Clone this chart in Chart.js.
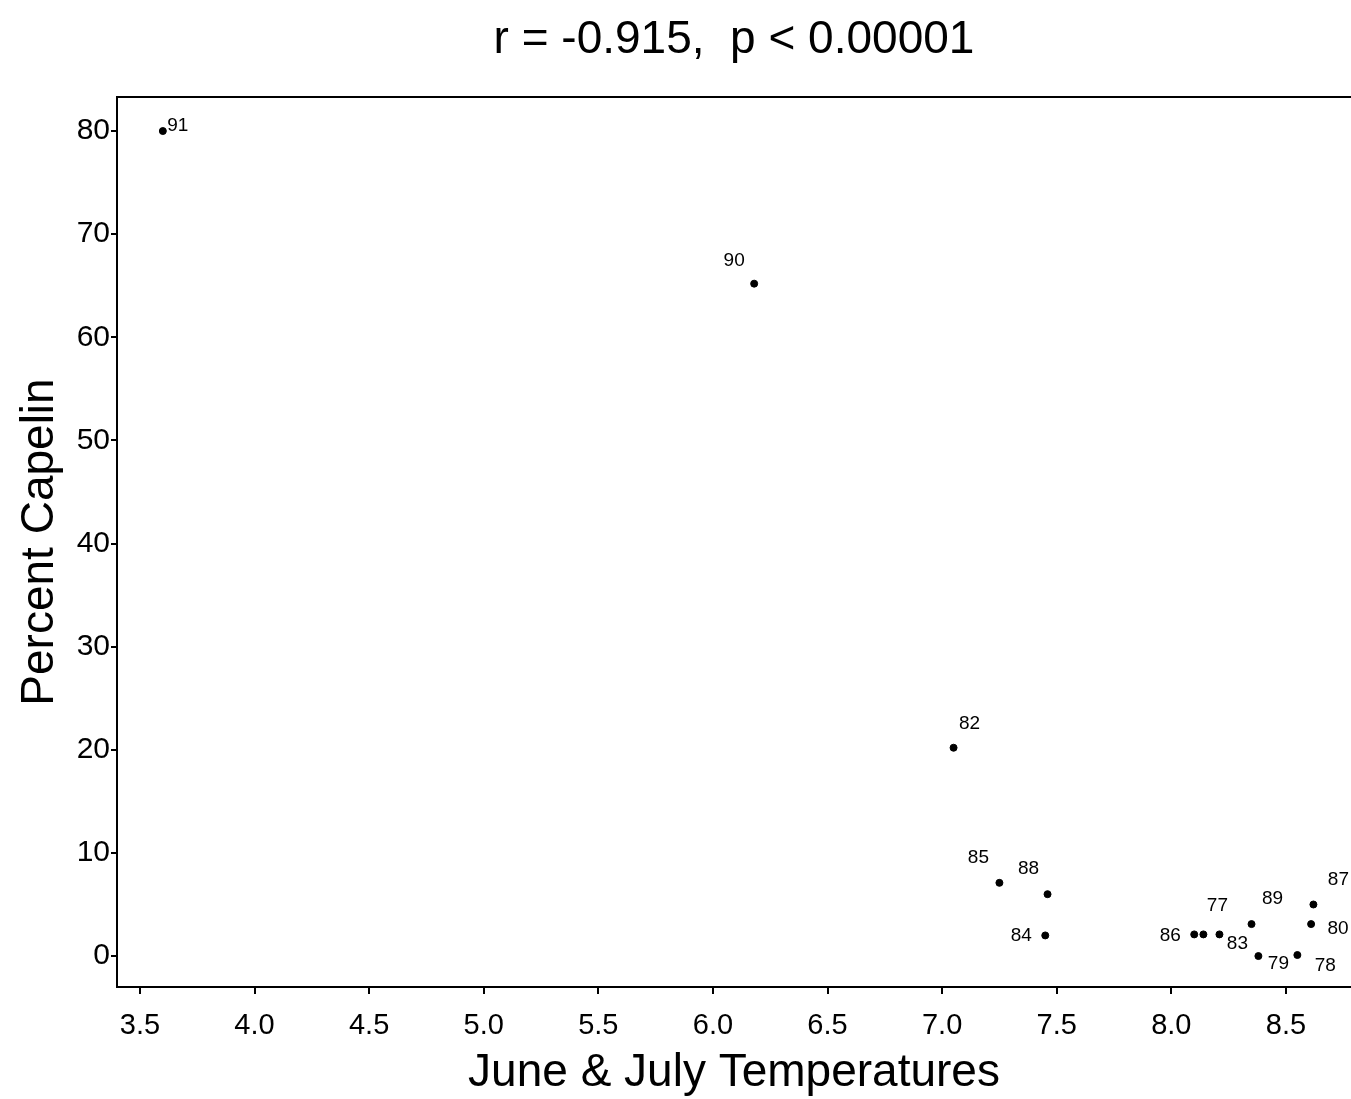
<!DOCTYPE html>
<html>
<head>
<meta charset="UTF-8">
<title>Percent Capelin vs June & July Temperatures</title>
<script src="https://cdn.jsdelivr.net/npm/chart.js@4.4.0/dist/chart.umd.min.js"></script>
<style>
  body { margin: 0; background: #fff; }
  canvas { display: block; }
</style>
</head>
<body>
<canvas id="chart" width="1351" height="1099"></canvas>
<script>
// years (labels next to points)
const years = ['91', '90', '82', '85', '88', '84', '86', '77', '83', '89', '79', '78', '87', '80'];
// June & July temperatures
const temps = [3.60, 6.18, 7.05, 7.25, 7.46, 7.45, 8.10, 8.14, 8.21, 8.35, 8.38, 8.55, 8.62, 8.61];
// percent capelin
const capelin = [80, 65.2, 20.2, 7.1, 6.0, 2.0, 2.1, 2.1, 2.1, 3.1, 0.0, 0.1, 5.0, 3.1];

const xTicks = [3.5, 4.0, 4.5, 5.0, 5.5, 6.0, 6.5, 7.0, 7.5, 8.0, 8.5];
const yTicks = [0, 10, 20, 30, 40, 50, 60, 70, 80];

const titleText = 'r = -0.915,  p < 0.00001';
const xTitle = 'June & July Temperatures';
const yTitle = 'Percent Capelin';

const FONT = "'Liberation Sans', Arial, sans-serif";

// where each year label sits relative to its dot (px)
const labelPos = {
  '91': [15, -5], '90': [-20, -23], '82': [16, -24], '85': [-21, -25],
  '88': [-19, -25], '84': [-24, 0], '86': [-24, 1], '77': [14, -29],
  '83': [18, 9], '89': [21, -25], '79': [20, 8], '78': [28, 11],
  '87': [25, -25], '80': [27, 5]
};

const pointLabels = {
  id: 'pointLabels',
  afterDatasetsDraw(chart) {
    const ctx = chart.ctx;
    const meta = chart.getDatasetMeta(0);
    ctx.save();
    ctx.font = '19px ' + FONT;
    ctx.fillStyle = '#000';
    ctx.textAlign = 'center';
    ctx.textBaseline = 'middle';
    meta.data.forEach((pt, i) => {
      const off = labelPos[years[i]] || [0, -20];
      ctx.fillText(years[i], pt.x + off[0], pt.y + off[1]);
    });
    ctx.restore();
  }
};

// top edge of the plot box + title centred over the plot area
const frameAndTitle = {
  id: 'frameAndTitle',
  afterDraw(chart) {
    const a = chart.chartArea;
    const ctx = chart.ctx;
    ctx.save();
    ctx.strokeStyle = '#000';
    ctx.lineWidth = 2;
    ctx.beginPath();
    ctx.moveTo(a.left, a.top);
    ctx.lineTo(a.right, a.top);
    ctx.stroke();
    ctx.font = '46px ' + FONT;
    ctx.fillStyle = '#000';
    ctx.textAlign = 'center';
    ctx.textBaseline = 'middle';
    ctx.fillText(titleText, (a.left + a.right) / 2, 40);
    ctx.restore();
  }
};

new Chart(document.getElementById('chart'), {
  type: 'scatter',
  data: {
    datasets: [{
      data: temps.map((t, i) => ({ x: t, y: capelin[i] })),
      backgroundColor: '#000',
      borderColor: '#000',
      pointRadius: 3.5,
      pointHoverRadius: 3.5
    }]
  },
  options: {
    responsive: false,
    animation: false,
    devicePixelRatio: 1,
    layout: { autoPadding: false, padding: { top: 97, right: 0, left: 0, bottom: 0 } },
    plugins: {
      legend: { display: false },
      tooltip: { enabled: false },
      title: { display: false }
    },
    scales: {
      x: {
        type: 'linear',
        min: 3.40,
        max: 8.784,
        afterBuildTicks: axis => { axis.ticks = xTicks.map(v => ({ value: v })); },
        afterFit: axis => { axis.height = 112; },
        ticks: {
          color: '#000',
          font: { family: FONT, size: 29 },
          padding: 15,
          maxRotation: 0,
          callback: v => v.toFixed(1)
        },
        grid: { drawOnChartArea: false, drawTicks: true, tickLength: 7, color: '#000', lineWidth: 2 },
        border: { display: true, color: '#000', width: 2 },
        title: {
          display: true,
          text: xTitle,
          color: '#000',
          font: { family: FONT, size: 46, lineHeight: 1.1 },
          padding: { top: 0, bottom: 0 }
        }
      },
      y: {
        type: 'linear',
        min: -3.0,
        max: 83.3,
        afterBuildTicks: axis => { axis.ticks = yTicks.map(v => ({ value: v })); },
        afterFit: axis => { axis.width = 117; },
        ticks: {
          color: '#000',
          font: { family: FONT, size: 30 },
          padding: 1
        },
        grid: { drawOnChartArea: false, drawTicks: true, tickLength: 6, color: '#000', lineWidth: 2 },
        border: { display: true, color: '#000', width: 2 },
        title: {
          display: true,
          text: yTitle,
          color: '#000',
          font: { family: FONT, size: 46, lineHeight: 1.2 },
          padding: { top: 13, bottom: 0 }
        }
      }
    }
  },
  plugins: [pointLabels, frameAndTitle]
});
</script>
</body>
</html>
